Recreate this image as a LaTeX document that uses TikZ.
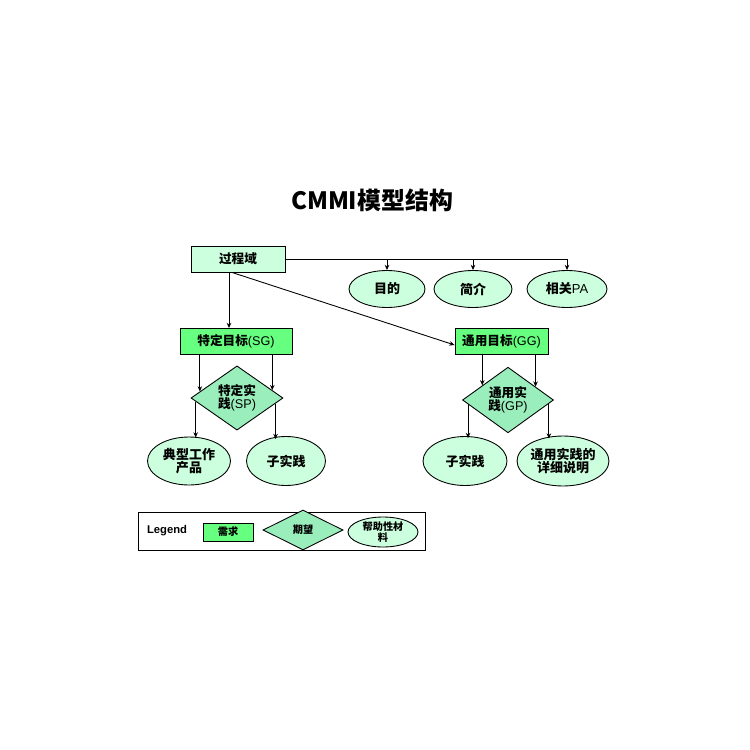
\documentclass[tikz,border=0pt]{standalone}
\usepackage{fontspec}
\setmainfont{Liberation Sans}
\newfontfamily\cjk{Noto Sans CJK SC}
\usetikzlibrary{shapes.geometric,calc,arrows.meta}
\definecolor{xanhnhat}{RGB}{204,255,221}
\definecolor{xanhdam}{RGB}{102,255,128}
\definecolor{xanhvua}{RGB}{153,238,187}
\newcommand{\zh}[1]{{\cjk\bfseries #1}}
\tikzset{
  hop/.style={draw,rectangle,inner sep=0pt,minimum height=0.52cm,align=center,font=\fontsize{7.2}{7}\selectfont},
  thoi/.style={draw,diamond,fill=xanhvua,inner sep=0pt,align=center,font=\fontsize{7.2}{7.2}\selectfont},
  elip/.style={draw,ellipse,fill=xanhnhat,inner sep=0pt,align=center,font=\fontsize{7.4}{7.2}\selectfont},
  nho/.style={font=\fontsize{5.8}{6.4}\selectfont}
}
\begin{document}
\begin{tikzpicture}[>={Stealth[length=3pt,width=2.6pt]},x=0.02cm,y=-0.02cm,line width=0.5pt]
\fill[white] (0,0) rectangle (750,750);
%Tieu de
\node[font=\fontsize{13.6}{16}\selectfont] (tieude) at (372,200) {\zh{CMMI模型结构}};
%Khung 1
\node[hop,fill=xanhnhat,minimum width=1.88cm] (qtd) at (238,259) {\zh{过程域}};
%Elip 1,2,3
\node[elip,minimum width=1.52cm,minimum height=0.74cm] (md) at (387,289) {\zh{目的}};
\node[elip,minimum width=1.56cm,minimum height=0.74cm] (jj) at (473,289) {\zh{简介}};
\node[elip,minimum width=1.6cm,minimum height=0.74cm] (pa) at (567,289) {\zh{相关}PA};
%Mui ten 1,2,3
\draw (qtd.east) -- (pa.north |- qtd.east);
\draw[->] (md.north |- qtd.east) -- (md.north);
\draw[->] (jj.north |- qtd.east) -- (jj.north);
\draw[->] (pa.north |- qtd.east) -- (pa.north);
%Khung 2.1
\node[hop,fill=xanhdam,minimum width=2.24cm] (sg) at (236,341.5) {\zh{特定目标}(SG)};
%Khung 2.2
\node[hop,fill=xanhdam,minimum width=1.86cm] (gg) at (501.5,341) {\zh{通用目标}(GG)};
%Mui ten 4,5
\draw[->] ([xshift=-0.18cm]qtd.south) -- ([xshift=-0.18cm]qtd.south |- sg.north);
\draw[->] ([xshift=-0.12cm]qtd.south) -- ([yshift=-0.08cm]gg.west);
%Thoi 1,2
\node[thoi,minimum width=1.84cm,minimum height=1.22cm] (sp) at (237,398) {\zh{特定实}\\\zh{践}(SP)};
\node[thoi,minimum width=1.82cm,minimum height=1.2cm] (gp) at (508,400) {\zh{通用实}\\\zh{践}(GP)};
%Mui ten 6,7
\coordinate (sp1) at ($(sp.west)!0.2!(sp.north)$);
\coordinate (sp2) at ($(sp.north)!0.76!(sp.east)$);
\draw[->] (sp1 |- sg.south) -- (sp1);
\draw[->] (sp2 |- sg.south) -- (sp2);
%Mui ten 8,9
\coordinate (gp1) at ($(gp.west)!0.44!(gp.north)$);
\coordinate (gp2) at ($(gp.north)!0.6!(gp.east)$);
\draw[->] (gp1 |- gg.south) -- (gp1);
\draw[->] (gp2 |- gg.south) -- (gp2);
%Elip 4,5
\node[elip,minimum width=1.66cm,minimum height=0.96cm] (tp) at (189,461) {\zh{典型工作}\\\zh{产品}};
\node[elip,minimum width=1.58cm,minimum height=0.98cm] (zsj1) at (286,461) {\zh{子实践}};
%Elip 6,7
\node[elip,minimum width=1.68cm,minimum height=0.98cm] (zsj2) at (465,461) {\zh{子实践}};
\node[elip,minimum width=1.72cm,minimum height=1.0cm] (sm) at (563,461) {\zh{通用实践的}\\\zh{详细说明}};
%Mui ten 10,11
\coordinate (sp3) at ($(sp.west)!0.11!(sp.south)$);
\coordinate (sp4) at ($(sp.east)!0.17!(sp.south)$);
\draw[->] (sp3) -- ([yshift=-0.02cm]sp3 |- tp.north);
\draw[->] (sp4) -- ([yshift=-0.06cm]sp4 |- zsj1.north);
%Mui ten 12,13
\coordinate (gp3) at ($(gp.west)!0.13!(gp.south)$);
\coordinate (gp4) at ($(gp.east)!0.11!(gp.south)$);
\draw[->] (gp3) -- ([yshift=-0.04cm]gp3 |- zsj2.north);
\draw[->] (gp4) -- ([yshift=-0.06cm]gp4 |- sm.north);
%Chu thich
\draw (138,512) rectangle (425,550);
\node[font=\fontsize{6.4}{7}\selectfont\bfseries] (leg) at (167,531) {Legend};
\node[draw,rectangle,fill=xanhdam,nho,minimum width=1.0cm,minimum height=0.36cm,inner sep=0pt] (nq) at (228,532) {\zh{需求}};
\node[draw,diamond,fill=xanhvua,nho,minimum width=1.6cm,minimum height=0.8cm,inner sep=0pt] (qw) at (303,530) {\zh{期望}};
\node[draw,ellipse,fill=xanhnhat,nho,align=center,minimum width=1.4cm,minimum height=0.6cm,inner sep=0pt] (bz) at (383,532) {\zh{帮助性材}\\\zh{料}};
\end{tikzpicture}
\end{document}
